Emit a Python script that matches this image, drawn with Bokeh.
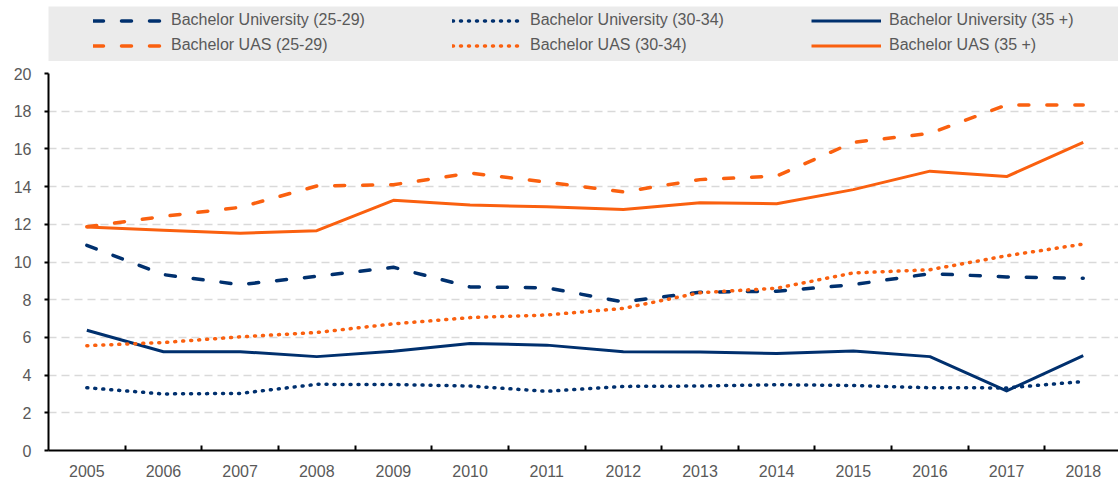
from bokeh.plotting import figure
from bokeh.models import Range1d, FixedTicker, Legend, LegendItem
from bokeh.layouts import column
from bokeh.embed import file_html
from bokeh.resources import INLINE

years = [2005, 2006, 2007, 2008, 2009, 2010, 2011, 2012, 2013, 2014, 2015, 2016, 2017, 2018]
y_ticks = [0, 2, 4, 6, 8, 10, 12, 14, 16, 18, 20]

univ_25_29 = [10.88, 9.33, 8.80, 9.24, 9.72, 8.68, 8.63, 7.88, 8.40, 8.45, 8.80, 9.38, 9.21, 9.14]
univ_30_34 = [3.33, 3.00, 3.03, 3.51, 3.50, 3.42, 3.14, 3.40, 3.42, 3.49, 3.45, 3.33, 3.32, 3.66]
univ_35 = [6.38, 5.24, 5.24, 4.98, 5.27, 5.68, 5.59, 5.24, 5.23, 5.14, 5.28, 4.98, 3.16, 5.03]
uas_25_29 = [11.87, 12.42, 12.90, 14.03, 14.10, 14.72, 14.24, 13.72, 14.37, 14.56, 16.35, 16.82, 18.33, 18.33]
uas_30_34 = [5.56, 5.73, 6.03, 6.26, 6.72, 7.05, 7.19, 7.54, 8.37, 8.61, 9.42, 9.59, 10.33, 10.95]
uas_35 = [11.86, 11.68, 11.53, 11.66, 13.27, 13.02, 12.93, 12.79, 13.14, 13.09, 13.84, 14.82, 14.53, 16.35]

labels = [
    "Bachelor University (25-29)", "Bachelor University (30-34)", "Bachelor University (35 +)",
    "Bachelor UAS (25-29)", "Bachelor UAS (30-34)", "Bachelor UAS (35 +)",
]

NAVY = "#00306e"
ORANGE = "#fa600f"
FONT = "Liberation Sans"
TEXT = "#595959"

series = [univ_25_29, univ_30_34, univ_35, uas_25_29, uas_30_34, uas_35]
colors = [NAVY, NAVY, NAVY, ORANGE, ORANGE, ORANGE]
dashes = ["10 18", "1 7", "solid", "10 18", "1 7", "solid"]
widths = [3.5, 3.5, 3, 3.5, 3.5, 3]

W = 1118

# ---- main chart ----
p = figure(width=W, height=418,
           x_range=Range1d(2004.5, 2018.46), y_range=Range1d(0, 20),
           output_backend="svg", toolbar_location=None,
           min_border_left=48, min_border_right=0, min_border_top=12, min_border_bottom=27)
p.outline_line_color = None
p.background_fill_color = "white"
p.xgrid.visible = False
p.ygrid.ticker = FixedTicker(ticks=y_ticks[1:-1])
p.ygrid.grid_line_color = "#d9d9d9"
p.ygrid.grid_line_dash = "8 5"
p.ygrid.grid_line_width = 1.5

p.xaxis.ticker = FixedTicker(ticks=years, minor_ticks=[y + 0.5 for y in years])
p.xaxis.major_tick_line_color = None
p.xaxis.minor_tick_line_color = "black"
p.xaxis.minor_tick_line_width = 2
p.xaxis.minor_tick_in = 5
p.xaxis.minor_tick_out = 0
p.xaxis.major_label_standoff = 8

p.yaxis.ticker = FixedTicker(ticks=y_ticks)
p.yaxis.minor_tick_line_color = None
p.yaxis.major_tick_in = 0
p.yaxis.major_tick_out = 4
p.yaxis.major_tick_line_width = 2
p.yaxis.major_label_standoff = 13

for ax in (p.xaxis, p.yaxis):
    ax.axis_line_color = "black"
    ax.axis_line_width = 2
    ax.major_label_text_font = FONT
    ax.major_label_text_font_size = "16px"
    ax.major_label_text_color = TEXT

for data, c, d, w in zip(series, colors, dashes, widths):
    p.line(years, data, line_color=c, line_width=w, line_dash=d,
           line_cap="round" if d != "solid" else "butt", line_join="round")

# ---- legend strip (its own lines sit outside its visible range) ----
p2 = figure(width=W, height=61, output_backend="svg", toolbar_location=None,
            x_axis_location=None, y_axis_location=None,
            x_range=Range1d(2004.5, 2018.46), y_range=Range1d(100, 101),
            min_border=0, min_border_left=48, min_border_right=0, min_border_top=6)
p2.background_fill_color = "#ebebeb"
p2.outline_line_color = None
p2.grid.visible = False

items = []
for lab, data, c, d, w in zip(labels, series, colors, dashes, widths):
    r = p2.line(years, data, line_color=c, line_width=w, line_dash=d,
                line_cap="round" if d != "solid" else "butt")
    items.append(LegendItem(label=lab, renderers=[r]))

legend = Legend(items=items, location=(45, 3.5), orientation="horizontal", ncols=3,
                background_fill_alpha=0, border_line_color=None,
                padding=0, margin=0, spacing=0,
                glyph_width=70, glyph_height=25, label_height=25,
                label_standoff=8, label_width=281,
                label_text_font=FONT, label_text_font_size="16px",
                label_text_color=TEXT)
p2.add_layout(legend)

layout = column(p2, p, spacing=0)
open("out.html", "w").write(file_html(layout, INLINE))
